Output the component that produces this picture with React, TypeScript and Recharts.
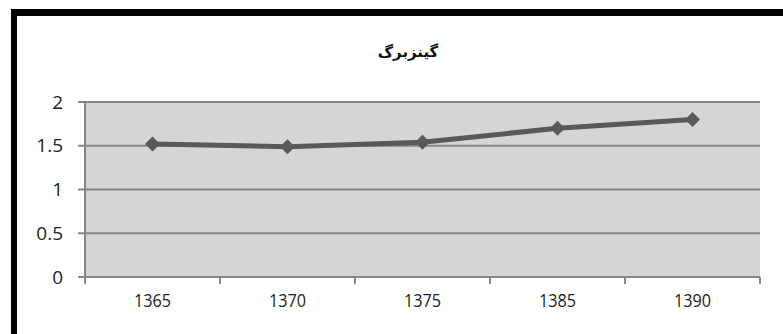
import { LineChart, Line, XAxis, YAxis, CartesianGrid } from 'recharts';

const years = ['1365', '1370', '1375', '1385', '1390'];
const values = [1.52, 1.49, 1.54, 1.7, 1.8];
const yTicks = [0, 0.5, 1, 1.5, 2];

const data = years.map((year, i) => ({ year, value: values[i] }));

const BAND = 135;

const Diamond = (props: any) => {
  const { cx, cy } = props;
  if (cx == null || cy == null) return null;
  const r = 7.5;
  return (
    <path d={`M${cx},${cy - r}L${cx + r},${cy}L${cx},${cy + r}L${cx - r},${cy}Z`} fill="#595959" />
  );
};

const XTick = (props: any) => {
  const { x, y, payload, index, visibleTicksCount } = props;
  const half = BAND / 2;
  return (
    <g>
      <line x1={x - half} y1={y} x2={x - half} y2={y + 7} stroke="#868686" strokeWidth={2} />
      {index === visibleTicksCount - 1 && (
        <line x1={x + half} y1={y} x2={x + half} y2={y + 7} stroke="#868686" strokeWidth={2} />
      )}
      <text x={x} y={y + 30} textAnchor="middle" fontSize={18} transform={`translate(${x},0) scale(0.9,1) translate(${-x},0)`}
        fontFamily="'Open Sans', sans-serif" fill="#222">
        {payload.value}
      </text>
    </g>
  );
};

export default function App() {
  return (
    <div style={{ position: 'absolute', left: 0, top: 0, width: 783, height: 334, background: '#fff', overflow: 'hidden' }}>
      <div style={{ position: 'absolute', left: 11, top: 9, width: 800, height: 400,
        borderLeft: '6px solid #000', borderTop: '7px solid #000' }} />
      <div style={{ position: 'absolute', left: 0, width: 816, top: 43, textAlign: 'center',
        fontFamily: "'DejaVu Sans', sans-serif", fontWeight: 'bold', fontSize: 15, color: '#111' }}>
        گینزبرگ
      </div>
      <LineChart width={783} height={334} data={data}
        margin={{ top: 102, right: 23, bottom: 17, left: 0 }}>
        <CartesianGrid vertical={false} stroke="#868686" strokeWidth={2} fill="#d5d5d5" />
        <XAxis dataKey="year" scale="band" height={40} tickSize={0} tickMargin={0}
          axisLine={{ stroke: '#868686', strokeWidth: 2 }} tickLine={false} tick={<XTick />}
          interval={0} />
        <YAxis domain={[0, 2]} ticks={yTicks} width={85} tickSize={7} tickMargin={15}
          axisLine={{ stroke: '#868686', strokeWidth: 2 }} tickLine={{ stroke: '#868686', strokeWidth: 2 }}
          tick={{ fontSize: 19, fill: '#222', fontFamily: "'Open Sans', sans-serif" }} />
        <Line dataKey="value" stroke="#595959" strokeWidth={5} dot={<Diamond />}
          activeDot={false} isAnimationActive={false} />
      </LineChart>
    </div>
  );
}
